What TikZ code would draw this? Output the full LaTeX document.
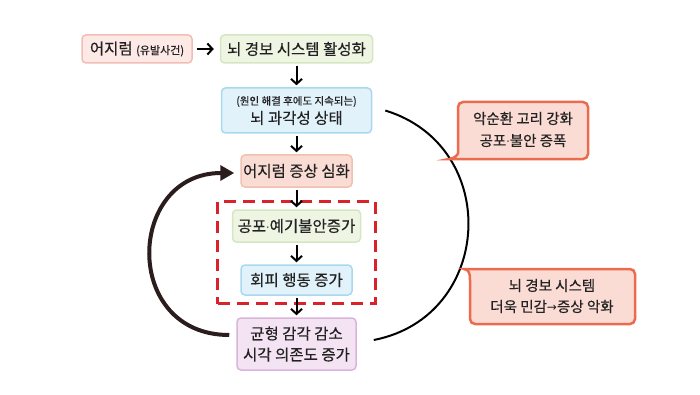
\documentclass[tikz,border=0pt]{standalone}
\usepackage{fontspec}
\setmainfont{Noto Sans CJK KR}[FakeBold=0.4]
\newfontfamily\symfont{DejaVu Sans}
\newcommand{\mdot}{{\symfont\fontsize{11}{12}\selectfont ·}}
\newcommand{\rarrow}{{\symfont\fontsize{12}{12}\selectfont →}}
\usepackage{xcolor}
\usetikzlibrary{arrows.meta, fit}

\definecolor{txtdark}{HTML}{222222}
\definecolor{pinkfill}{HTML}{FDE9E5}
\definecolor{pinkline}{HTML}{F2BDB2}
\definecolor{greenfill}{HTML}{EEF5E3}
\definecolor{greenline}{HTML}{D5E6C2}
\definecolor{bluefill}{HTML}{E1F2FB}
\definecolor{blueline}{HTML}{A9D8EF}
\definecolor{salmonfill}{HTML}{F9DCD3}
\definecolor{salmonline}{HTML}{F2C0B1}
\definecolor{purplefill}{HTML}{F4E3F3}
\definecolor{purpleline}{HTML}{D9B5D9}
\definecolor{calloutfill}{HTML}{FADCD4}
\definecolor{calloutline}{HTML}{EC6B4E}
\definecolor{dashred}{HTML}{D9232A}
\definecolor{loopdark}{HTML}{2B1D1D}

\begin{document}
\begin{tikzpicture}[x=1pt, y=1pt,
  box/.style={draw, line width=1.5pt, rounded corners=4pt, align=center,
    inner sep=0pt, text=txtdark, font=\fontsize{15.5}{22}\selectfont},
  flow/.style={line width=2pt, -{Straight Barb[length=5pt,width=11pt]},
    shorten <=2pt, shorten >=2pt},
  dashbox/.style={draw=dashred, line width=3pt, dash pattern=on 12pt off 7pt,
    inner xsep=14pt, inner ysep=8pt},
  callout/.style={fill=calloutfill, draw=calloutline, line width=2.5pt},
  loopback/.style={draw=loopdark, line width=4pt,
    -{Triangle[length=14pt,width=15pt]}},
  relapse/.style={draw=black, line width=2pt}
]
\useasboundingbox (0,0) rectangle (700,394);

% Trigger and alarm
\node[box, fill=pinkfill, draw=pinkline, minimum width=110pt, minimum height=28pt]
  (trigger) at (137,345) {어지럼 {\fontsize{11}{12}\selectfont (유발사건)}};
\node[box, fill=greenfill, draw=greenline, minimum width=152pt, minimum height=28pt]
  (alarm) at (296.5,345) {뇌 경보 시스템 활성화};

% Main column
\node[box, fill=bluefill, draw=blueline, minimum width=150pt, minimum height=45pt]
  (hyper) at (296.5,283.5) {{\fontsize{10.5}{12}\selectfont (원인 해결 후에도 지속되는)}\\[-3pt] 뇌 과각성 상태};
\node[box, fill=salmonfill, draw=salmonline, minimum width=111pt, minimum height=32pt]
  (worse) at (296.5,223) {어지럼 증상 심화};
\node[box, fill=greenfill, draw=greenline, minimum width=128pt, minimum height=32pt]
  (fear) at (296.5,168) {공포\mdot 예기불안증가};
\node[box, fill=bluefill, draw=blueline, minimum width=111pt, minimum height=30pt]
  (avoid) at (296.5,114) {회피 행동 증가};
\node[box, fill=purplefill, draw=purpleline, minimum width=119pt, minimum height=52pt]
  (balance) at (296.5,50) {균형 감각 감소\\[-1pt] 시각 의존도 증가};

% Dashed frame
\node[dashbox, fit=(fear)(avoid)] (frame) {};

% Flow arrows
\draw[flow, shorten <=4pt, shorten >=6pt] (trigger) -- (alarm);
\draw[flow] (alarm) -- (hyper);
\draw[flow] (hyper) -- (worse);
\draw[flow] (worse) -- (fear);
\draw[flow] (fear) -- (avoid);
\draw[flow] (avoid) -- (balance);

% Loops
\draw[loopback] ([xshift=-7pt,yshift=9pt]balance.west)
  to[out=180, in=180, looseness=1.7] ([xshift=-6pt,yshift=-2pt]worse.west);
\draw[relapse] ([xshift=13pt]hyper.east)
  to[out=-17, in=11, looseness=1.36] ([xshift=17pt,yshift=4pt]balance.east);

% Callouts
\draw[callout] (520,235) [rounded corners=5pt] -- (588,235) -- (588,292) -- (458,292)
  -- (458,246) [sharp corners] .. controls (458,240) and (456,236) .. (449,235) -- cycle;
\node[text=txtdark, align=center, font=\fontsize{14.5}{22}\selectfont]
  (vicious) at (523,264.5) {악순환 고리 강화\\ 공포\mdot 불안 증폭};

\draw[callout] (550,70) [rounded corners=5pt] -- (635,70) -- (635,125) [sharp corners]
  -- (464,125) .. controls (469,124) and (470,121) .. (470,114) [rounded corners=5pt]
  -- (470,70) -- cycle;
\node[text=txtdark, align=center, font=\fontsize{14.5}{21}\selectfont]
  (sensitize) at (552,98) {뇌 경보 시스템\\ 더욱 민감\rarrow 증상 악화};
\end{tikzpicture}
\end{document}
